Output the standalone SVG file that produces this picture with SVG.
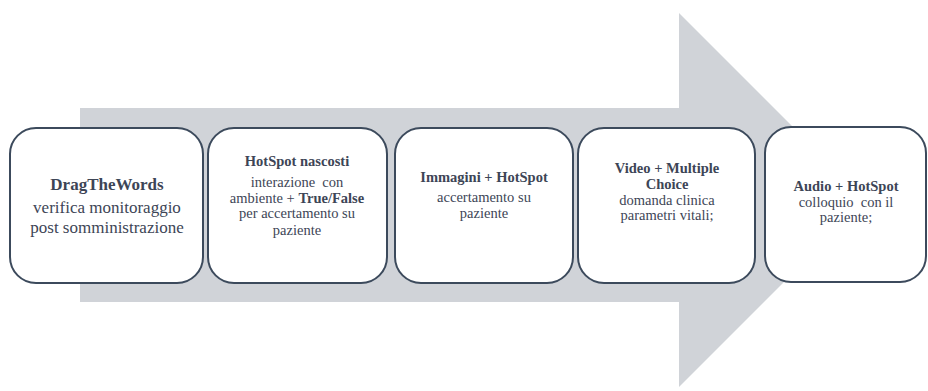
<svg xmlns="http://www.w3.org/2000/svg" width="928" height="391" viewBox="0 0 928 391">
<rect width="928" height="391" fill="#fff"/>
<g id="arrow">
<polygon points="80,108 679,108 679,13 866,200 679,387 679,302 80,302" fill="#d0d3d8"/>
</g>
<g fill="#3d4556" text-anchor="middle" font-family="Liberation Serif" font-size="14.5">
<g id="node1">
<rect x="10" y="128" width="193" height="155" rx="26" fill="#fff" stroke="#3c4a5c" stroke-width="2"/>
<text x="107" y="190" font-weight="bold" font-size="17">DragTheWords</text>
<text x="107" y="213" font-size="17">verifica monitoraggio</text>
<text x="107" y="233" font-size="17">post somministrazione</text>
</g>
<g id="node2">
<rect x="208" y="128" width="179" height="155" rx="26" fill="#fff" stroke="#3c4a5c" stroke-width="2"/>
<text x="297" y="166" font-weight="bold">HotSpot nascosti</text>
<text x="297" y="187" xml:space="preserve">interazione  con</text>
<text x="297" y="203">ambiente + <tspan font-weight="bold">True/False</tspan></text>
<text x="297" y="218">per accertamento su</text>
<text x="297" y="235">paziente</text>
</g>
<g id="node3">
<rect x="395" y="128" width="178" height="155" rx="26" fill="#fff" stroke="#3c4a5c" stroke-width="2"/>
<text x="484" y="182" font-weight="bold">Immagini + HotSpot</text>
<text x="484" y="202">accertamento su</text>
<text x="484" y="218">paziente</text>
</g>
<g id="node4">
<rect x="578" y="128" width="177" height="155" rx="26" fill="#fff" stroke="#3c4a5c" stroke-width="2"/>
<text x="667" y="173" font-weight="bold">Video + Multiple</text>
<text x="667" y="189" font-weight="bold">Choice</text>
<text x="667" y="205">domanda clinica</text>
<text x="667" y="220">parametri vitali;</text>
</g>
<g id="node5">
<rect x="765" y="127" width="161" height="155" rx="26" fill="#fff" stroke="#3c4a5c" stroke-width="2"/>
<text x="846" y="191" font-weight="bold">Audio + HotSpot</text>
<text x="846" y="207" xml:space="preserve">colloquio  con il</text>
<text x="846" y="222">paziente;</text>
</g>
</g>
<g id="connectors"/>
</svg>
